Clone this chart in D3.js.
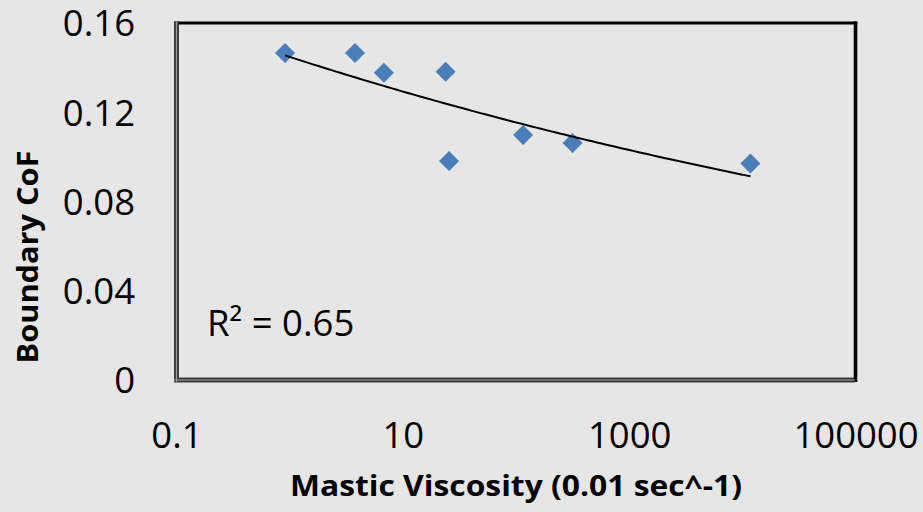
<!DOCTYPE html>
<html>
<head>
<meta charset="utf-8">
<script src="https://cdn.jsdelivr.net/npm/d3@7"></script>
<style>
  html, body { margin: 0; padding: 0; background: #e6e6e6; }
  svg { display: block; }
</style>
</head>
<body>
<script>
// ---- data ----
const viscosity = [0.91, 3.78, 6.8, 23.9, 25.6, 115.6, 316, 11800];
const boundaryCoF = [0.1466, 0.1466, 0.1377, 0.1381, 0.0982, 0.1098, 0.1062, 0.0970];
const xTicks = [0.1, 10, 1000, 100000];
const xTickLabels = ["0.1", "10", "1000", "100000"];
const yTicks = [0, 0.04, 0.08, 0.12, 0.16];
const yTickLabels = ["0", "0.04", "0.08", "0.12", "0.16"];
const xTitle = "Mastic Viscosity (0.01 sec^-1)";
const yTitle = "Boundary CoF";
const r2Label = "R² = 0.65";

const W = 923, H = 512;
const font = "'Open Sans', 'Liberation Sans', sans-serif";

const svg = d3.select("body").append("svg").attr("width", W).attr("height", H);
svg.append("rect").attr("width", W).attr("height", H).attr("fill", "#e6e6e6");

const x = d3.scaleLog().domain([0.1, 100000]).range([176.5, 855.5]);
const y = d3.scaleLinear().domain([0, 0.16]).range([380, 23]);

// plot frame
const x0 = x.range()[0], x1 = x.range()[1], y0 = y.range()[0], y1 = y.range()[1];
// top and right: solid black
svg.append("line").attr("x1", x0 - 2).attr("x2", x1 + 1.8).attr("y1", y1).attr("y2", y1)
  .attr("stroke", "#000").attr("stroke-width", 3.2);
svg.append("line").attr("x1", x1).attr("x2", x1).attr("y1", y1 - 1.6).attr("y2", y0 + 2)
  .attr("stroke", "#000").attr("stroke-width", 3.6);
// left and bottom: double line
[["#3a3a3a", 5], ["#9a9a9a", 1.2]].forEach(([c, w]) => {
  svg.append("line").attr("x1", x0).attr("x2", x0).attr("y1", y1 - 1.5).attr("y2", y0 + 2)
    .attr("stroke", c).attr("stroke-width", w);
  svg.append("line").attr("x1", x0 - 2.5).attr("x2", x1 - 1).attr("y1", y0).attr("y2", y0)
    .attr("stroke", c).attr("stroke-width", w);
});

// axes (labels only, no tick marks)
const xAxis = d3.axisBottom(x).tickValues(xTicks).tickSize(0)
  .tickFormat((d, i) => xTickLabels[i]);
const gx = svg.append("g").attr("transform", `translate(0,${y0})`).call(xAxis);
gx.select(".domain").remove();
gx.selectAll("text").attr("font-family", font).attr("font-size", 36.5).attr("fill", "#000")
  .attr("dy", null).attr("y", 68);

const yAxis = d3.axisLeft(y).tickValues(yTicks).tickSize(0)
  .tickFormat((d, i) => yTickLabels[i]);
const gy = svg.append("g").attr("transform", `translate(135,0)`).call(yAxis);
gy.select(".domain").remove();
gy.selectAll("text").attr("font-family", font).attr("font-size", 36.5).attr("fill", "#000")
  .attr("x", 0).attr("dy", "0.35em");

// power trendline fitted from the data (least squares on ln-ln)
const lx = viscosity.map(Math.log), ly = boundaryCoF.map(Math.log);
const mx = d3.mean(lx), my = d3.mean(ly);
const b = d3.sum(lx.map((v, i) => (v - mx) * (ly[i] - my))) / d3.sum(lx.map(v => (v - mx) ** 2));
const a = Math.exp(my - b * mx);
const xmin = d3.min(viscosity), xmax = d3.max(viscosity);
const trend = d3.range(0, 101).map(i => {
  const xv = Math.exp(Math.log(xmin) + (Math.log(xmax) - Math.log(xmin)) * i / 100);
  return [xv, a * Math.pow(xv, b)];
});

// points
svg.append("g").selectAll("path").data(viscosity).join("path")
  .attr("d", d3.symbol().type(d3.symbolSquare).size(200))
  .attr("transform", (d, i) => `translate(${x(d)},${y(boundaryCoF[i])}) rotate(45)`)
  .attr("fill", "#4a7ebb");

svg.append("path").datum(trend)
  .attr("d", d3.line().x(d => x(d[0])).y(d => y(d[1])))
  .attr("fill", "none").attr("stroke", "#000").attr("stroke-width", 2);

// R² label
svg.append("text").attr("x", 207).attr("y", 336).text(r2Label)
  .attr("font-family", font).attr("font-size", 36.5).attr("fill", "#000");

// axis titles
svg.append("text").attr("x", 516).attr("y", 496).attr("text-anchor", "middle")
  .attr("font-family", font).attr("font-weight", "bold").attr("font-size", 28)
  .attr("textLength", 452).attr("lengthAdjust", "spacingAndGlyphs")
  .text(xTitle);
svg.append("text").attr("transform", "translate(38,257) rotate(-90)")
  .attr("text-anchor", "middle")
  .attr("font-family", font).attr("font-weight", "bold").attr("font-size", 28)
  .attr("textLength", 213).attr("lengthAdjust", "spacingAndGlyphs")
  .text(yTitle);
</script>
</body>
</html>
